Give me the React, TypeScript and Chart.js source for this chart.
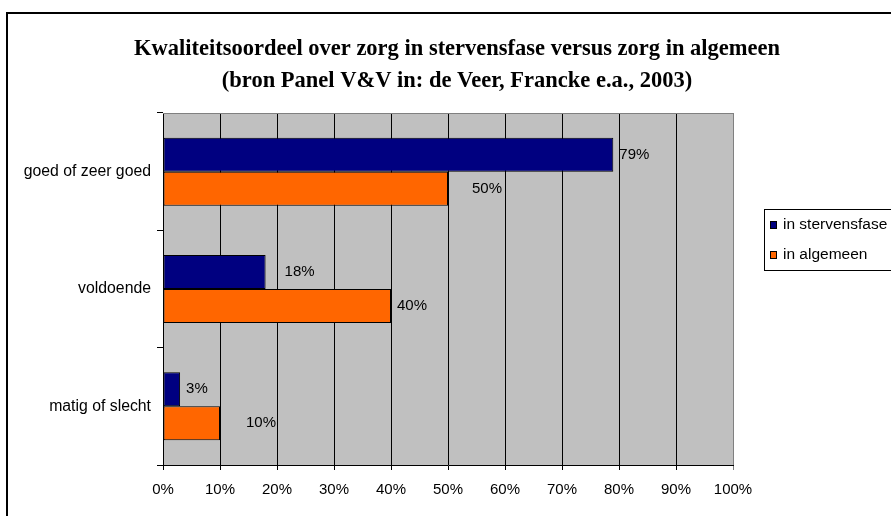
import React, { useEffect, useRef } from "react";
import { Chart, registerables } from "chart.js";

Chart.register(...registerables);

const categories = ["goed of zeer goed", "voldoende", "matig of slecht"];
const seriesNames = ["in stervensfase", "in algemeen"];
const stervensfase = [79, 18, 3];
const algemeen = [50, 40, 10];
const xTicks = [0, 10, 20, 30, 40, 50, 60, 70, 80, 90, 100];
const titleLines = [
  "Kwaliteitsoordeel over zorg in stervensfase versus zorg in algemeen",
  "(bron Panel V&V in: de Veer, Francke e.a., 2003)",
];

const BLUE = "#000080";
const ORANGE = "#FF6600";
const SANS = "'Liberation Sans', Arial, sans-serif";
const SERIF = "'Liberation Serif', 'Times New Roman', serif";

const decorPlugin = {
  id: "decor",
  beforeDraw(chart: any) {
    const { ctx, chartArea: a } = chart;
    ctx.save();
    ctx.fillStyle = "#ffffff";
    ctx.fillRect(0, 0, chart.width, chart.height);
    ctx.fillStyle = "#C0C0C0";
    ctx.fillRect(a.left, a.top, a.right - a.left, a.bottom - a.top);
    // outer frame
    ctx.strokeStyle = "#000";
    ctx.lineWidth = 2;
    ctx.beginPath();
    ctx.moveTo(7, chart.height + 2);
    ctx.lineTo(7, 13);
    ctx.lineTo(chart.width + 2, 13);
    ctx.stroke();
    // title
    ctx.fillStyle = "#000";
    ctx.font = `bold 22.5px ${SERIF}`;
    ctx.textAlign = "center";
    ctx.textBaseline = "alphabetic";
    ctx.fillText(titleLines[0], 457, 55);
    ctx.fillText(titleLines[1], 457, 87);
    ctx.restore();
  },
  beforeDatasetsDraw(chart: any) {
    const { ctx, chartArea: a } = chart;
    ctx.save();
    ctx.strokeStyle = "#808080";
    ctx.lineWidth = 1;
    ctx.beginPath();
    ctx.moveTo(a.left, a.top + 0.5);
    ctx.lineTo(a.right, a.top + 0.5);
    ctx.stroke();
    ctx.restore();
  },
  afterDatasetsDraw(chart: any, _args: any, opts: any) {
    const { ctx } = chart;
    ctx.save();
    ctx.font = `15px ${SANS}`;
    ctx.fillStyle = "#000";
    ctx.textAlign = "left";
    ctx.textBaseline = "middle";
    chart.data.datasets.forEach((ds: any, di: number) => {
      const meta = chart.getDatasetMeta(di);
      meta.data.forEach((el: any, i: number) => {
        const off = opts.offsets[di][i];
        ctx.fillText(ds.data[i] + "%", el.x + off, el.y);
      });
    });
    // legend
    ctx.font = `15.5px ${SANS}`;
    ctx.strokeStyle = "#000";
    ctx.lineWidth = 1;
    ctx.strokeRect(764.5, 209.5, 200, 61);
    const colors = [BLUE, ORANGE];
    const ys = [225, 255];
    seriesNames.forEach((n, i) => {
      ctx.fillStyle = colors[i];
      ctx.fillRect(770, ys[i] - 4, 7, 8);
      ctx.strokeRect(770.5, ys[i] - 3.5, 6, 7);
      ctx.fillStyle = "#000";
      ctx.fillText(n, 783, ys[i]);
    });
    ctx.restore();
  },
};

export default function App() {
  const ref = useRef<HTMLCanvasElement>(null);
  useEffect(() => {
    document.body.style.margin = "0";
    const chart = new Chart(ref.current!, {
      type: "bar",
      data: {
        labels: categories,
        datasets: [
          {
            label: seriesNames[0],
            data: stervensfase,
            backgroundColor: BLUE,
            borderColor: "#000",
            borderWidth: 1,
            borderSkipped: false,
            categoryPercentage: 0.58,
            barPercentage: 1,
          },
          {
            label: seriesNames[1],
            data: algemeen,
            backgroundColor: ORANGE,
            borderColor: "#000",
            borderWidth: 1,
            borderSkipped: false,
            categoryPercentage: 0.58,
            barPercentage: 1,
          },
        ],
      },
      options: {
        indexAxis: "y",
        responsive: false,
        animation: false,
        layout: { padding: { left: 0, top: 113, right: 158, bottom: 0 } },
        plugins: {
          legend: { display: false },
          title: { display: false },
          tooltip: { enabled: false },
          decor: { offsets: [[6, 19, 6], [24, 6, 26]] },
        } as any,
        scales: {
          x: {
            type: "linear",
            min: 0,
            max: 100,
            afterBuildTicks: (s: any) => {
              s.ticks = xTicks.map((v) => ({ value: v }));
            },
            afterFit: (s: any) => {
              s.height = 51;
            },
            ticks: {
              color: "#000",
              font: { family: SANS, size: 15 },
              padding: 11,
              callback: (v: any) => v + "%",
              maxRotation: 0,
            },
            grid: {
              color: (c: any) => (c.tick && c.tick.value === 100 ? "#808080" : "#000"),
              lineWidth: 1,
              tickLength: 5,
            },
            border: { color: "#000", width: 1 },
          },
          y: {
            afterFit: (s: any) => {
              s.width = 163;
            },
            ticks: {
              color: "#000",
              font: { family: SANS, size: 15.8 },
              padding: 6,
            },
            grid: {
              drawOnChartArea: false,
              drawTicks: true,
              tickLength: 6,
              color: "#000",
              offset: true,
            },
            border: { color: "#000", width: 1 },
          },
        },
      },
      plugins: [decorPlugin],
    });
    return () => chart.destroy();
  }, []);
  return <canvas ref={ref} width={891} height={516} style={{ display: "block" }} />;
}
